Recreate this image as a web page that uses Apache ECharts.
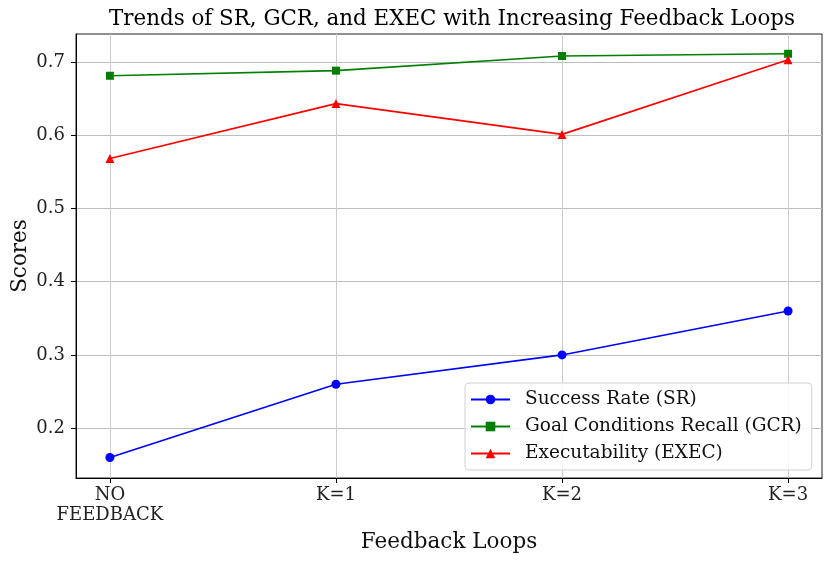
<!DOCTYPE html>
<html>
<head>
<meta charset="utf-8">
<title>Trends of SR, GCR, and EXEC</title>
<script src="https://cdn.jsdelivr.net/npm/echarts@6/dist/echarts.min.js"></script>
</head>
<body style="margin:0;background:#fff">
<div id="chart" style="width:831px;height:561px"></div>
<script>
var loops = ['NO\nFEEDBACK', 'K=1', 'K=2', 'K=3'];
var srValues = [0.16, 0.26, 0.30, 0.36];
var gcrValues = [0.681, 0.688, 0.708, 0.711];
var execValues = [0.568, 0.643, 0.601, 0.703];
var yTicks = [0.2, 0.3, 0.4, 0.5, 0.6, 0.7];

var serif = 'DejaVu Serif';
var xIdx = loops.map(function (_, i) { return i; });

function pts(vals) {
    return vals.map(function (v, i) { return [i, v]; });
}

var chart = echarts.init(document.getElementById('chart'));
chart.setOption({
    animation: false,
    textStyle: { fontFamily: serif },
    title: {
        text: 'Trends of SR, GCR, and EXEC with Increasing Feedback Loops',
        left: 447, textAlign: 'center', top: 4,
        textStyle: { fontFamily: serif, fontSize: 21.4, fontWeight: 'normal', color: '#000' }
    },
    grid: {
        left: 76, right: 9, top: 34, bottom: 83,
        outerBoundsMode: 'none',
        show: true, borderColor: '#222', borderWidth: 1
    },
    legend: {
        orient: 'vertical',
        left: 465, top: 383,
        padding: [7, 10, 7, 5],
        itemGap: 8,
        itemWidth: 39, itemHeight: 12,
        backgroundColor: 'rgba(255,255,255,0.85)',
        borderColor: '#d0d0d0', borderWidth: 1, borderRadius: 4,
        textStyle: { fontFamily: serif, fontSize: 18.5, color: '#111', padding: [0, 0, 0, 10] },
        data: ['Success Rate (SR)', 'Goal Conditions Recall (GCR)', 'Executability (EXEC)']
    },
    xAxis: {
        type: 'value',
        min: -0.15, max: 3.15,
        name: 'Feedback Loops',
        nameLocation: 'middle', nameGap: 53,
        nameMoveOverlap: false,
        nameTextStyle: { fontFamily: serif, fontSize: 21.5, color: '#111' },
        axisLine: { show: true, onZero: false, lineStyle: { color: '#000' } },
        axisTick: { show: true, customValues: xIdx, length: 5, lineStyle: { color: '#000' } },
        axisLabel: {
            customValues: xIdx,
            formatter: function (v) { return loops[Math.round(v)]; },
            fontFamily: serif, fontSize: 18, color: '#222', lineHeight: 20, margin: 7
        },
        splitLine: { show: true, lineStyle: { color: '#cccccc', width: 1 } }
    },
    yAxis: {
        type: 'value',
        min: 0.132, max: 0.738,
        name: 'Scores',
        nameLocation: 'middle', nameGap: 45,
        nameMoveOverlap: false,
        nameTextStyle: { fontFamily: serif, fontSize: 21.5, color: '#111' },
        axisLine: { show: true, onZero: false, lineStyle: { color: '#000' } },
        axisTick: { show: true, customValues: yTicks, length: 5, lineStyle: { color: '#000' } },
        axisLabel: {
            customValues: yTicks,
            formatter: function (v) { return v.toFixed(1); },
            fontFamily: serif, fontSize: 18, color: '#222', margin: 11
        },
        splitLine: { show: true, lineStyle: { color: '#bdbdbd', width: 1 } }
    },
    series: [
        {
            name: 'Success Rate (SR)', type: 'line', data: pts(srValues),
            color: '#0000ff', symbol: 'circle', symbolSize: 9,
            lineStyle: { width: 1.6 }
        },
        {
            name: 'Goal Conditions Recall (GCR)', type: 'line', data: pts(gcrValues),
            color: '#008000', symbol: 'rect', symbolSize: 8,
            lineStyle: { width: 1.6 }
        },
        {
            name: 'Executability (EXEC)', type: 'line', data: pts(execValues),
            color: '#ff0000', symbol: 'triangle', symbolSize: 9,
            lineStyle: { width: 1.6 }
        }
    ]
});
</script>
</body>
</html>
